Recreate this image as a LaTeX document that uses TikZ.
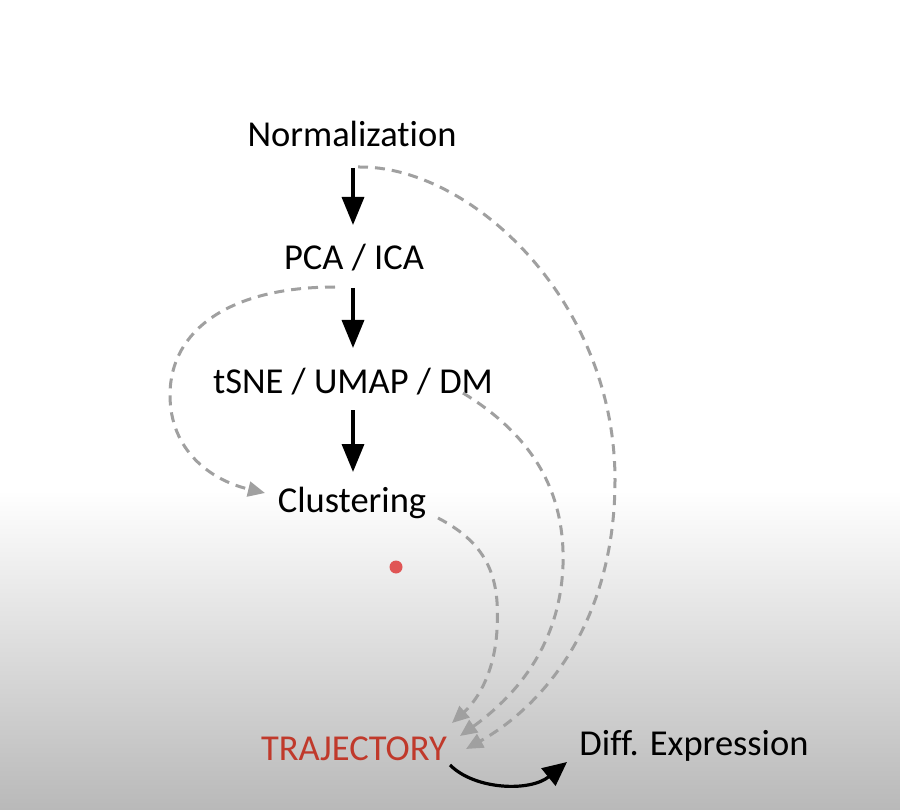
\documentclass[tikz,border=0pt]{standalone}
\usepackage{fontspec}
\setmainfont{Carlito}[Ligatures={NoCommon}]
\usetikzlibrary{arrows.meta,calc}
\definecolor{trajred}{RGB}{192,57,43}
\definecolor{dashgray}{RGB}{160,160,160}
\definecolor{dotred}{RGB}{224,85,85}
\begin{document}
\begin{tikzpicture}[x=1pt,y=-1pt,
  lbl/.style={anchor=base,inner sep=0pt,font=\fontsize{36.5}{44}\selectfont},
  mainarrow/.style={line width=3.5pt,-{Triangle[length=28pt,width=22pt]}},
  dasharrow/.style={dashgray,line width=3pt,dash pattern=on 10pt off 7pt,-{Triangle[length=17pt,width=15pt]}},
  diffarrow/.style={line width=3.2pt,-{Triangle[length=24pt,width=22pt]}}]
\useasboundingbox (0,0) rectangle (900,810);
\fill[white] (0,0) rectangle (900,492);
\shade[top color=white,bottom color=gray!55] (0,490) rectangle (900,810);

\node[lbl] (norm) at (352,147) {Normalization};
\node[lbl] (pca) at (354,270) {PCA / ICA};
\node[lbl] (tsne) at (353,393) {tSNE / UMAP / DM};
\node[lbl] (clust) at (352,512) {Clustering};
\node[lbl,text=trajred] (traj) at (354,760) {TRAJECTORY};
\node[lbl] (diff) at (694,755) {Diff. Expression};

\fill[dotred] (396,567) circle (6.5);

% main chain
\draw[mainarrow] ($(norm.base)+(1,21)$) -- ($(pca.base)+(-1,-45)$);
\draw[mainarrow] ($(pca.base)+(-1,18)$) -- ($(tsne.base)+(0,-45)$);
\draw[mainarrow] ($(tsne.base)+(0,17)$) -- ($(clust.base)+(1,-40)$);

% dashed connectors
\draw[dasharrow] ($(pca.base)+(-19,17)$) .. controls (230,287) and (170,330) .. (170,395)
  .. controls (170,450) and (210,480) .. ($(clust.base)+(-87,-19)$);
\draw[dasharrow] ($(clust.base)+(86,6)$) .. controls (490,545) and (500,580) .. (497,630)
  .. controls (494,680) and (472,705) .. ($(traj.base)+(98,-37)$);
\draw[dasharrow] ($(tsne.base)+(110,0)$) .. controls (540,440) and (565,500) .. (563,565)
  .. controls (560,650) and (510,700) .. ($(traj.base)+(106,-24)$);
\draw[dasharrow] ($(norm.base)+(6,20)$) .. controls (470,165) and (615,300) .. (615,480)
  .. controls (615,620) and (545,705) .. ($(traj.base)+(112,-11)$);

% trajectory to diff expression
\draw[diffarrow] ($(traj.base)+(96,5)$) .. controls (475,790) and (530,792) .. ($(diff.base)+(-127,7)$);
\end{tikzpicture}
\end{document}
